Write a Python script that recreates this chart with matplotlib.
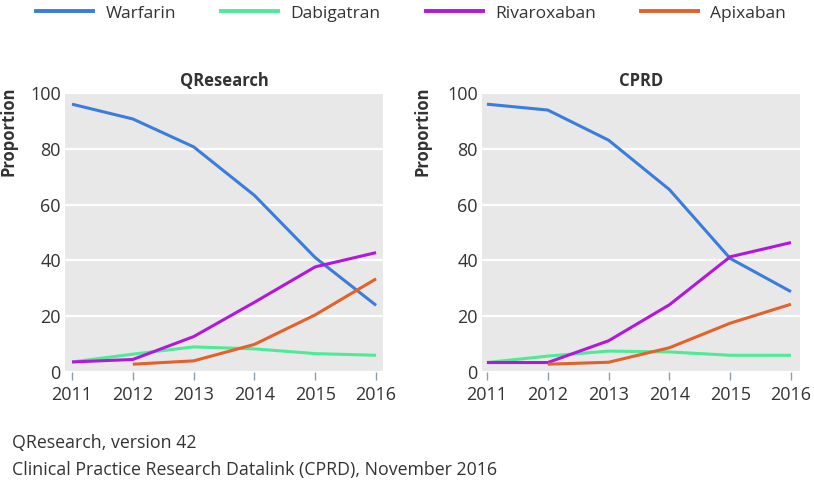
import matplotlib.pyplot as plt
from matplotlib.lines import Line2D

plt.rcParams['font.family'] = ['Open Sans', 'DejaVu Sans']

# Data
years = [2011, 2012, 2013, 2014, 2015, 2016]
drugs = ['Warfarin', 'Dabigatran', 'Rivaroxaban', 'Apixaban']
colors = ['#3b7ddd', '#4deb96', '#b417dc', '#e3612a']

qresearch = {
    'Warfarin': [96.0, 90.7, 80.7, 63.3, 41.0, 23.9],
    'Dabigatran': [3.6, 6.4, 9.0, 8.3, 6.6, 6.0],
    'Rivaroxaban': [3.6, 4.5, 12.7, 25.0, 37.7, 42.8],
    'Apixaban': [None, 2.8, 4.0, 9.9, 20.5, 33.4],
}
cprd = {
    'Warfarin': [96.0, 93.9, 83.1, 65.4, 40.7, 28.8],
    'Dabigatran': [3.4, 5.7, 7.5, 7.2, 6.0, 6.0],
    'Rivaroxaban': [3.4, 3.4, 11.2, 24.1, 41.3, 46.4],
    'Apixaban': [None, 2.8, 3.5, 8.7, 17.5, 24.3],
}
panels = [('QResearch', qresearch), ('CPRD', cprd)]
yticks = [0, 20, 40, 60, 80, 100]

text_col = '#333333'
fig = plt.figure(figsize=(8.14, 4.87), dpi=100)
ax_rects = [[0.0799, 0.2361, 0.3907, 0.5729], [0.5921, 0.2361, 0.3907, 0.5729]]
xlims = [(2010.885, 2016.115), (2010.918, 2016.148)]
label_x = [-0.151, -0.160]

for i, (title, data) in enumerate(panels):
    ax = fig.add_axes(ax_rects[i])
    ax.set_facecolor('#e8e8e8')
    for drug, c in zip(drugs, colors):
        xs = [y for y, v in zip(years, data[drug]) if v is not None]
        vs = [v for v in data[drug] if v is not None]
        ax.plot(xs, vs, color=c, lw=2.2, solid_capstyle='butt')
    ax.set_xlim(*xlims[i])
    ax.set_ylim(0, 100)
    ax.set_xticks(years)
    ax.set_yticks(yticks)
    ax.grid(axis='y', color='white', lw=1.6)
    ax.set_axisbelow(True)
    for s in ax.spines.values():
        s.set_visible(False)
    ax.tick_params(axis='y', length=0, pad=3, labelsize=13, labelcolor=text_col)
    ax.tick_params(axis='x', length=6, width=1, color='#8aa0b0', pad=4,
                   labelsize=13, labelcolor=text_col)
    ax.set_title(title, fontsize=12, fontweight='bold', color=text_col, pad=5)
    ax.set_ylabel('Proportion', fontsize=12, fontweight='bold', color=text_col)
    ax.yaxis.set_label_coords(label_x[i], 0.864)

# legend across the top
handles = [Line2D([], [], color=c, lw=2.8) for c in colors]
fig.legend(handles, drugs, loc='upper left', bbox_to_anchor=(0.025, 1.021), ncol=4,
           frameon=False, fontsize=12.5, handlelength=3.3, handletextpad=0.7,
           columnspacing=2.6, labelcolor=text_col)

fig.text(0.015, 0.0903, 'QResearch, version 42', fontsize=12.8,
         color=text_col, va='center')
fig.text(0.015, 0.0349, 'Clinical Practice Research Datalink (CPRD), November 2016',
         fontsize=12.8, color=text_col, va='center')

fig.savefig('out.png', dpi=100)
